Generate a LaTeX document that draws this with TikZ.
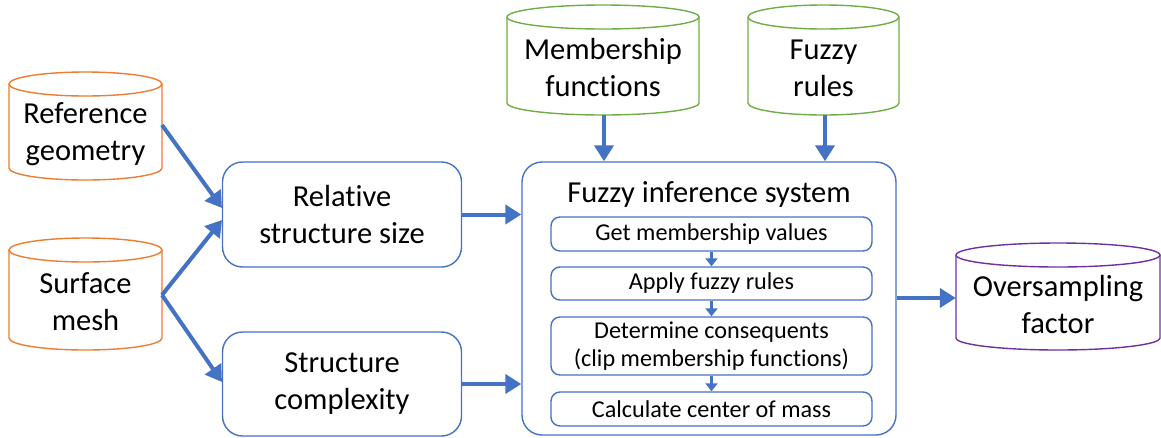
\documentclass[tikz,border=0pt]{standalone}
\usepackage{fontspec}
\setmainfont{Carlito}[Ligatures={NoCommon}]
\usetikzlibrary{arrows.meta}

\definecolor{flowblue}{HTML}{4472C4}
\definecolor{srcorange}{HTML}{ED7D31}
\definecolor{kbgreen}{HTML}{70AD47}
\definecolor{outpurple}{HTML}{7030A0}

\tikzset{
  bigtext/.style={font=\fontsize{30.5}{37}\selectfont, align=center},
  smalltext/.style={font=\fontsize{24.2}{28.5}\selectfont, align=center},
  procbox/.style={draw=flowblue, line width=1.4pt, rounded corners=20pt,
    fill=white, inner sep=0pt},
  stepbox/.style={draw=flowblue, line width=1.4pt, rounded corners=9pt,
    fill=white, inner sep=0pt},
  flow/.style={draw=flowblue, line width=4pt,
    -{Triangle[length=16pt,width=19pt]}},
  smallflow/.style={draw=flowblue, line width=2.6pt,
    -{Triangle[length=8pt,width=12pt]}},
}

% cylinder: name, left, top, right, bottom, colour, text
\newcommand{\drumnode}[7]{%
  \node[inner sep=0pt, minimum width={(#4-#2)*1pt}, minimum height={(#5-#3)*1pt}]
    (#1) at ({(#2+#4)/2},{(#3+#5)/2}) {};
  \draw[#6, line width=1.4pt, fill=white]
    (#2,#3+12) -- (#2,#5-12)
    arc[start angle=180, end angle=360, x radius={(#4-#2)/2*1pt}, y radius=12pt]
    -- (#4,#3+12);
  \draw[#6, line width=1.4pt]
    ({(#2+#4)/2},#3+12) ellipse[x radius={(#4-#2)/2*1pt}, y radius=12pt];
  \node[bigtext] at ({(#2+#4)/2},{(#3+#5)/2+8}) {#7};
}

\begin{document}
\begin{tikzpicture}[x=1pt, y=-1pt]
\useasboundingbox (0,0) rectangle (1161,437);

% data sources
\drumnode{refgeo}{9}{72}{162}{180}{srcorange}{Reference\\geometry}
\drumnode{mesh}{9}{238}{162}{350}{srcorange}{Surface\\mesh}
\drumnode{memfun}{507}{5}{699}{115}{kbgreen}{Membership\\functions}
\drumnode{rules}{748}{5}{899}{115}{kbgreen}{Fuzzy\\rules}
\drumnode{osf}{956}{243}{1160}{350}{outpurple}{Oversampling\\factor}

% feature extraction
\node[procbox, minimum width=239pt, minimum height=105pt, bigtext]
  (relsize) at (342,214.5) {Relative\\structure size};
\node[procbox, minimum width=239pt, minimum height=104pt, bigtext]
  (complex) at (342,384) {Structure\\complexity};

% fuzzy inference system
\node[procbox, minimum width=374pt, minimum height=273pt]
  (fis) at (709,298.5) {};
\node[bigtext] (fistitle) at (709,194) {Fuzzy inference system};
\node[stepbox, minimum width=321pt, minimum height=34pt, smalltext]
  (s1) at (711.5,234) {Get membership values};
\node[stepbox, minimum width=321pt, minimum height=33pt, smalltext]
  (s2) at (711.5,283.5) {Apply fuzzy rules};
\node[stepbox, minimum width=321pt, minimum height=58pt, smalltext]
  (s3) at (711.5,346) {Determine consequents\\(clip membership functions)};
\node[stepbox, minimum width=321pt, minimum height=34pt, smalltext]
  (s4) at (711.5,409) {Calculate center of mass};

\draw[smallflow] (s1.south) -- (s2.north);
\draw[smallflow] (s2.south) -- (s3.north);
\draw[smallflow] (s3.south) -- (s4.north);

% connectors
\coordinate (fan) at (162,295);
\draw[flow] (162,125) -- (222,208);
\draw[flow] (fan) -- (222,220);
\draw[flow] (fan) -- (222,382);
\draw[flow] (relsize.east) -- (fis.west |- relsize.east);
\draw[flow] (complex.east) -- (fis.west |- complex.east);
\draw[flow] (memfun.south -| 604,0) -- (fis.north -| 604,0);
\draw[flow] (rules.south -| 825,0) -- (fis.north -| 825,0);
\draw[flow] (fis.east |- 0,298) -- (osf.west |- 0,298);
\end{tikzpicture}
\end{document}
